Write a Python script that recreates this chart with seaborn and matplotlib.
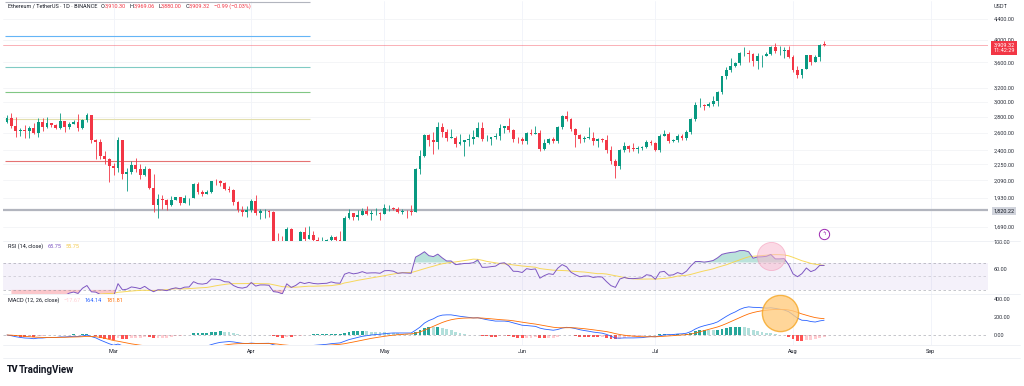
import numpy as np
import pandas as pd
import matplotlib
matplotlib.use("Agg")
import matplotlib.pyplot as plt
import matplotlib.dates as mdates
from matplotlib.ticker import FixedLocator, FuncFormatter, NullLocator
import seaborn as sns

# ETH/USDT daily candles, 5 Feb - 8 Aug 2025
dates = pd.date_range("2025-02-05", "2025-08-08", freq="D")

opens = [
    2731, 2786, 2687, 2622, 2632, 2627, 2658, 2601, 2738, 2676, 2725, 2693, 2661, 2744, 2672, 2716, 2737, 2662, 2763, 2820, 2513, 2494, 2335, 2305,
    2237, 2217, 2519, 2150, 2171, 2241, 2201, 2139, 2204, 2020, 1866, 1921, 1908, 1865, 1911, 1936, 1887, 1926, 1930, 2056, 1982, 1965, 1983, 2084, 2080, 2066, 2010, 2003, 1895, 1828, 1805,
    1823, 1905, 1795, 1816, 1816, 1806, 1580, 1555, 1473, 1669, 1522, 1567, 1646, 1598, 1624, 1590, 1577, 1584, 1588, 1613, 1586, 1580, 1756, 1795, 1770, 1786, 1819, 1793, 1799, 1800,
    1793, 1839, 1842, 1834, 1808, 1815, 1813, 1810, 2206, 2344, 2581, 2513, 2496, 2680, 2609, 2546, 2547, 2474, 2494, 2522, 2525, 2550, 2663, 2527, 2530, 2550, 2565, 2660, 2682, 2632, 2532,
    2529, 2508, 2606, 2592, 2607, 2420, 2480, 2525, 2510, 2680, 2815, 2770, 2645, 2580, 2525, 2545, 2545, 2510, 2525, 2520, 2410, 2290, 2230, 2410, 2450, 2420, 2418, 2425, 2435, 2500,
    2486, 2405, 2570, 2590, 2505, 2515, 2570, 2540, 2610, 2770, 2955, 2955, 2945, 2970, 3010, 3140, 3375, 3475, 3550, 3590, 3755, 3760, 3740, 3625, 3705, 3715, 3745, 3875, 3795, 3795, 3810,
    3700, 3480, 3395, 3495, 3720, 3610, 3685, 3910.30,
]
highs = [
    2826, 2857, 2794, 2660, 2699, 2691, 2722, 2788, 2789, 2797, 2727, 2711, 2855, 2752, 2741, 2767, 2845, 2780, 2858, 2829, 2535, 2530, 2391, 2320,
    2267, 2550, 2524, 2216, 2284, 2320, 2259, 2239, 2209, 2150, 1963, 1956, 1923, 1946, 1940, 1940, 1952, 1932, 2068, 2072, 2002, 2000, 2084, 2105, 2098, 2072, 2036, 2010, 1905, 1856, 1859,
    1923, 1955, 1834, 1833, 1823, 1817, 1640, 1620, 1690, 1677, 1580, 1657, 1690, 1692, 1658, 1609, 1609, 1597, 1625, 1616, 1659, 1777, 1829, 1800, 1826, 1837, 1856, 1828, 1842, 1807,
    1873, 1868, 1853, 1850, 1834, 1826, 1868, 2213, 2400, 2584, 2595, 2617, 2738, 2725, 2646, 2646, 2561, 2590, 2523, 2588, 2635, 2735, 2733, 2577, 2552, 2604, 2709, 2690, 2788, 2646, 2550,
    2548, 2613, 2654, 2683, 2632, 2525, 2537, 2550, 2690, 2827, 2880, 2793, 2660, 2593, 2560, 2680, 2608, 2547, 2543, 2583, 2445, 2310, 2420, 2500, 2463, 2487, 2449, 2449, 2515, 2524,
    2495, 2588, 2640, 2610, 2530, 2590, 2590, 2635, 2790, 2995, 3060, 2970, 3000, 3080, 3160, 3390, 3520, 3675, 3615, 3775, 3860, 3812, 3760, 3755, 3720, 3770, 3880, 3940, 3880, 3860, 3880,
    3720, 3545, 3500, 3730, 3735, 3730, 3925, 3969.06,
]
lows = [
    2718, 2661, 2552, 2562, 2538, 2546, 2584, 2549, 2630, 2667, 2678, 2650, 2650, 2610, 2651, 2710, 2625, 2655, 2742, 2485, 2303, 2310, 2253, 2076,
    2141, 2172, 2103, 1994, 2150, 2172, 2103, 2130, 2007, 1811, 1754, 1832, 1827, 1855, 1906, 1867, 1884, 1868, 1925, 1961, 1946, 1964, 1973, 2050, 2033, 1998, 1981, 1865, 1809, 1776, 1766,
    1811, 1782, 1750, 1760, 1762, 1537, 1411, 1440, 1385, 1477, 1506, 1548, 1577, 1592, 1583, 1545, 1565, 1570, 1580, 1536, 1565, 1568, 1746, 1740, 1738, 1780, 1786, 1745, 1786, 1743,
    1791, 1818, 1826, 1799, 1791, 1760, 1784, 1807, 2151, 2329, 2452, 2363, 2415, 2556, 2506, 2536, 2434, 2464, 2339, 2455, 2475, 2550, 2511, 2512, 2466, 2534, 2514, 2605, 2611, 2500, 2480,
    2473, 2467, 2581, 2592, 2390, 2410, 2470, 2486, 2489, 2649, 2752, 2620, 2440, 2488, 2494, 2526, 2461, 2444, 2499, 2375, 2251, 2112, 2200, 2380, 2384, 2396, 2372, 2410, 2425, 2460,
    2394, 2380, 2565, 2481, 2494, 2500, 2520, 2520, 2590, 2745, 2930, 2890, 2935, 2950, 2940, 3120, 3330, 3450, 3520, 3560, 3705, 3615, 3540, 3500, 3525, 3705, 3725, 3765, 3720, 3680, 3680,
    3450, 3355, 3355, 3490, 3560, 3600, 3625, 3880.00,
]
closes = [
    2786, 2687, 2622, 2632, 2627, 2658, 2601, 2738, 2676, 2725, 2693, 2661, 2744, 2672, 2716, 2737, 2662, 2763, 2820, 2513, 2494, 2335, 2305, 2237,
    2217, 2519, 2150, 2171, 2241, 2201, 2139, 2204, 2020, 1866, 1921, 1908, 1865, 1911, 1936, 1887, 1926, 1930, 2056, 1982, 1965, 1983, 2084, 2080, 2066, 2010, 2003, 1895, 1828, 1805, 1823,
    1905, 1795, 1816, 1816, 1806, 1580, 1555, 1473, 1669, 1522, 1567, 1646, 1598, 1624, 1590, 1577, 1584, 1588, 1613, 1586, 1580, 1756, 1795, 1770, 1786, 1819, 1793, 1799, 1800, 1793,
    1839, 1842, 1834, 1808, 1815, 1813, 1810, 2206, 2344, 2581, 2513, 2496, 2680, 2609, 2546, 2547, 2474, 2494, 2522, 2525, 2550, 2663, 2527, 2530, 2550, 2565, 2660, 2682, 2632, 2532, 2529,
    2508, 2606, 2592, 2607, 2420, 2480, 2525, 2510, 2680, 2815, 2770, 2645, 2580, 2525, 2545, 2545, 2510, 2525, 2520, 2410, 2290, 2230, 2410, 2450, 2420, 2418, 2425, 2435, 2500, 2486,
    2405, 2570, 2590, 2505, 2515, 2570, 2540, 2610, 2770, 2955, 2955, 2945, 2970, 3010, 3140, 3375, 3475, 3550, 3590, 3755, 3760, 3740, 3625, 3705, 3715, 3745, 3875, 3795, 3795, 3810, 3700,
    3480, 3395, 3495, 3720, 3610, 3685, 3910.30, 3909.32,
]

# drawing-tool levels on the left part of the chart
fib_levels = [4760, 4063, 3523, 3146, 2771, 2284]
fib_colors = ["#B2B5BE", "#64B5F6", "#80CBC4", "#81C784", "#E3DFAE", "#E57373"]
last_price = 3909.32
support = 1820.22

price_ticks = [1690, 1930, 2090, 2250, 2400, 2600, 2800, 3000, 3200, 3600, 4000, 4400]
rsi_ticks = [60, 100]
macd_ticks = [0, 200, 400]

UP, DOWN = "#089981", "#F23645"
TXT = "#131722"

df = pd.DataFrame({"open": opens, "high": highs, "low": lows, "close": closes}, index=dates)

# indicators, same definitions as the chart's RSI(14) and MACD(12, 26)
delta = df["close"].diff()
gain = delta.clip(lower=0).ewm(alpha=1 / 14, adjust=False).mean()
loss = (-delta.clip(upper=0)).ewm(alpha=1 / 14, adjust=False).mean()
df["rsi"] = 100 - 100 / (1 + gain / loss)
df["rsi_ma"] = df["rsi"].rolling(14, min_periods=1).mean()
df["macd"] = df["close"].ewm(span=12, adjust=False).mean() - df["close"].ewm(span=26, adjust=False).mean()
df["signal"] = df["macd"].ewm(span=9, adjust=False).mean()
df["hist"] = df["macd"] - df["signal"]

sns.set_theme(style="white")
plt.rcParams["font.family"] = ["Roboto", "DejaVu Sans"]

W, H = 1024, 386
fig = plt.figure(figsize=(W / 100, H / 100), dpi=100)
fig.patch.set_facecolor("white")


def box(x0, y0, x1, y1):
    return [x0 / W, 1 - y1 / H, (x1 - x0) / W, (y1 - y0) / H]


ax_p = fig.add_axes(box(3, 1, 988, 241))
ax_r = fig.add_axes(box(3, 241, 988, 294), sharex=ax_p)
ax_m = fig.add_axes(box(3, 294, 988, 345), sharex=ax_p)

xs = mdates.date2num(df.index)
x0 = xs[0]

# ---- price panel
ax_p.set_yscale("log")
up = df["close"] >= df["open"]
cols = np.where(up, UP, DOWN)
ax_p.vlines(xs, df["low"], df["high"], colors=cols, lw=0.6, zorder=3)
body = np.maximum((df["close"] - df["open"]).abs(), df["open"] * 0.002)
ax_p.bar(xs, body, bottom=np.minimum(df["open"], df["close"]), width=0.64, color=cols, lw=0, zorder=4)

ax_p.hlines(fib_levels, x0 - 0.45, x0 + 68.3, colors=fib_colors, lw=0.8, zorder=2)
ax_p.axhline(last_price, color=DOWN, lw=0.6, alpha=0.45, zorder=2)
ax_p.axhline(support, color="#B2B5BE", lw=1.6, zorder=2)

ax_p.set_ylim(1581, 4780)
ax_p.yaxis.set_major_locator(FixedLocator(price_ticks))
ax_p.yaxis.set_minor_locator(NullLocator())
ax_p.yaxis.set_major_formatter(FuncFormatter(lambda v, p: f"{v:,.2f}"))
ax_p.grid(axis="y", color="#F3F4F6", lw=0.6)

ax_p.scatter([x0 + 184], [1633], s=55, facecolor="white", edgecolor="#9C27B0", lw=0.7, zorder=6, clip_on=False)
ax_p.text(x0 + 184, 1633, "ϟ", color="#9C27B0", fontsize=4, ha="center", va="center", zorder=7,
          family=["DejaVu Sans"])

# ---- RSI panel
ax_r.axhspan(30, 70, color="#7E57C2", alpha=0.08, lw=0)
for lvl, a in [(70, 0.5), (50, 0.3), (30, 0.5)]:
    ax_r.axhline(lvl, color="#787B86", lw=0.6, ls=(0, (3, 3)), alpha=a)
ax_r.fill_between(xs, df["rsi"], 70, where=df["rsi"] >= 70, interpolate=True, color=UP, alpha=0.28, lw=0)
ax_r.fill_between(xs, df["rsi"], 30, where=df["rsi"] <= 30, interpolate=True, color=DOWN, alpha=0.28, lw=0)
sns.lineplot(x=xs, y=df["rsi_ma"].values, ax=ax_r, color="#F7D54A", lw=0.7, alpha=0.9)
sns.lineplot(x=xs, y=df["rsi"].values, ax=ax_r, color="#7E57C2", lw=0.7)
ax_r.scatter([x0 + 172], [80], s=410, facecolor="#F8BBD0", edgecolor="#F48FB1", alpha=0.55, lw=0.6, zorder=5)
ax_r.set_ylim(24, 101.5)
ax_r.yaxis.set_major_locator(FixedLocator(rsi_ticks))
ax_r.yaxis.set_major_formatter(FuncFormatter(lambda v, p: f"{v:.2f}"))

# ---- MACD panel
hist = df["hist"].values
prev = np.r_[0, hist[:-1]]
hcol = np.where(hist >= 0, np.where(hist > prev, "#26A69A", "#B2DFDB"),
                np.where(hist < prev, "#FF5252", "#FFCDD2"))
ax_m.bar(xs, hist, width=0.65, color=hcol, lw=0)
ax_m.axhline(0, color="#787B86", lw=0.6, ls=(0, (3, 3)), alpha=0.5)
sns.lineplot(x=xs, y=df["macd"].values, ax=ax_m, color="#2962FF", lw=0.6)
sns.lineplot(x=xs, y=df["signal"].values, ax=ax_m, color="#FF6D00", lw=0.6)
ax_m.scatter([x0 + 174], [244], s=680, facecolor="#FFCC80", edgecolor="#F5A623", alpha=0.8, lw=1.0, zorder=5)
ax_m.set_ylim(-111, 456)
ax_m.yaxis.set_major_locator(FixedLocator(macd_ticks))
ax_m.yaxis.set_major_formatter(FuncFormatter(lambda v, p: f"{v:.2f}"))

# ---- shared styling
ax_p.set_xlim(x0 - 0.9, x0 + 220.9)
ax_m.xaxis.set_major_locator(mdates.MonthLocator())
ax_m.xaxis.set_major_formatter(mdates.DateFormatter("%b"))
for ax in (ax_p, ax_r, ax_m):
    ax.set_facecolor("none")
    for s in ax.spines.values():
        s.set_visible(False)
    ax.set_xlabel("")
    ax.set_ylabel("")
    ax.grid(axis="x", color="#F0F3FA", lw=0.6)
    ax.set_axisbelow(True)
    ax.yaxis.tick_right()
    ax.tick_params(axis="y", length=0, pad=4.3, labelsize=4, labelcolor="#2A2E39")
    ax.tick_params(axis="x", length=0, pad=3.2, labelsize=4, labelcolor=TXT)
    for lab in ax.get_yticklabels():
        lab.set_ha("left")
ax_p.tick_params(axis="x", labelbottom=False)
ax_r.tick_params(axis="x", labelbottom=False)

# panel separators and frame
for yy in (241, 294, 345, 358):
    fig.add_artist(plt.Line2D([3 / W, 1020 / W], [1 - yy / H] * 2, color="#E0E3EB", lw=0.5, alpha=0.7))


def chain(parts, x, y, size):
    t = fig.text(x / W, 1 - y / H, parts[0][0], color=parts[0][1], fontsize=size, va="center")
    for s, c, gap in parts[1:]:
        t = ax_m.annotate(s, xy=(1, 0.5), xycoords=t, xytext=(gap, 0), textcoords="offset points",
                          va="center", ha="left", color=c, fontsize=size, annotation_clip=False)


chain([("Ethereum / TetherUS · 1D · BINANCE", TXT, 0), ("O", TXT, 2.5), ("3,910.30", DOWN, 0),
       ("H", TXT, 2.5), ("3,969.06", DOWN, 0), ("L", TXT, 2.5), ("3,880.00", DOWN, 0),
       ("C", TXT, 2.5), ("3,909.32", DOWN, 0), ("−0.99 (−0.03%)", DOWN, 2.5)], 8, 6, 4)
chain([("RSI (14, close)", TXT, 0), ("65.75", "#7E57C2", 3), ("55.75", "#F2C94C", 3)], 8, 246, 4)
chain([("MACD (12, 26, close)", TXT, 0), ("−17.67", "#FFCDD2", 3), ("164.14", "#2962FF", 3),
       ("181.81", "#FF6D00", 3)], 8, 300, 4)

# right scale extras
fig.text(1001 / W, 1 - 6 / H, "USDT", fontsize=4, color="#2A2E39", ha="center", va="center")
fig.text(1004 / W, 1 - 48 / H, "3,909.32\n11:42:29", fontsize=4, color="white", ha="center", va="center",
         linespacing=1.2, bbox=dict(boxstyle="square,pad=0.35", fc=DOWN, ec="none"))
fig.text(1004 / W, 1 - 211 / H, "1,820.22", fontsize=4, color=TXT, ha="center", va="center",
         bbox=dict(boxstyle="square,pad=0.3", fc="#D1D4DC", ec="none"))

# logo
fig.text(7 / W, 1 - 370 / H, "TV", fontsize=6.5, weight="heavy", color=TXT, va="center")
fig.text(19 / W, 1 - 370 / H, "TradingView", fontsize=7, weight="bold", color=TXT, va="center")

fig.savefig("out.png", dpi=100, facecolor="white")
